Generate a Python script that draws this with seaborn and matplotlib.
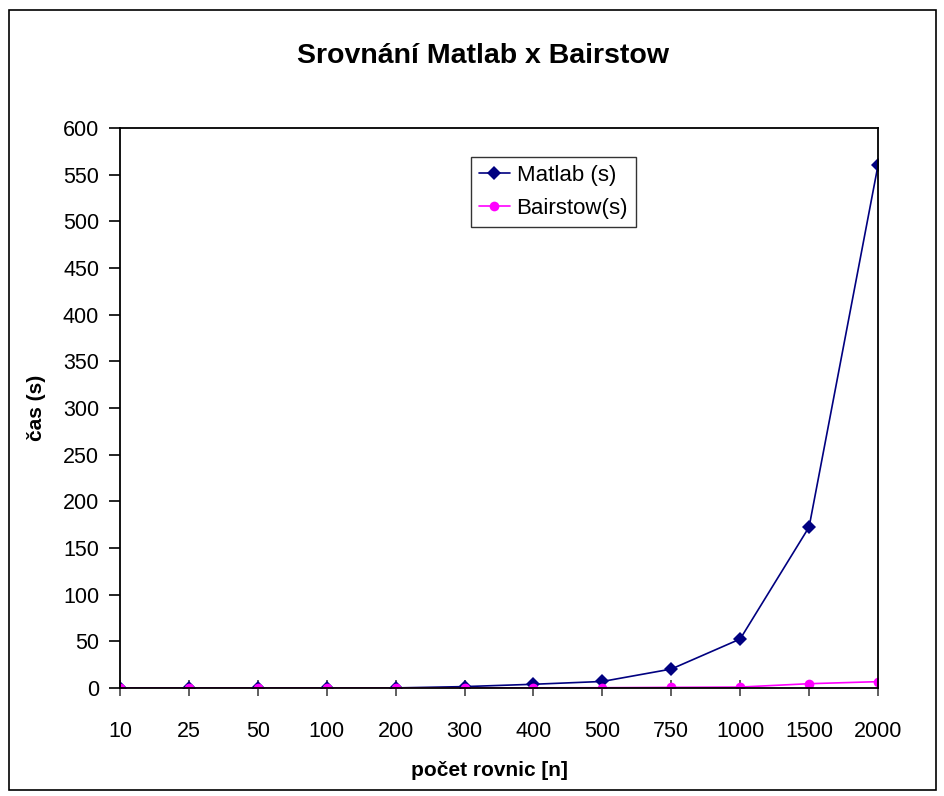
import matplotlib
matplotlib.use("Agg")
import matplotlib.pyplot as plt
import seaborn as sns
import pandas as pd
from matplotlib.patches import Rectangle

categories = ["10", "25", "50", "100", "200", "300", "400", "500", "750", "1000", "1500", "2000"]
matlab = [0.0, 0.0, 0.0, 0.0, 0.1, 1.5, 4.0, 7.0, 20.3, 52.5, 172.5, 560.0]
bairstow = [0.0, 0.0, 0.0, 0.0, 0.0, 0.1, 0.2, 0.3, 0.7, 1.0, 4.6, 6.8]
series_names = ["Matlab (s)", "Bairstow(s)"]
yticks = list(range(0, 601, 50))

df = pd.DataFrame({
    "n": categories * 2,
    "t": matlab + bairstow,
    "series": [series_names[0]] * len(categories) + [series_names[1]] * len(categories),
})

sns.set_theme(style="white")
plt.rcParams["font.family"] = ["Liberation Sans", "DejaVu Sans"]
plt.rcParams["text.color"] = "black"
plt.rcParams["axes.labelcolor"] = "black"
plt.rcParams["xtick.labelcolor"] = "black"
plt.rcParams["ytick.labelcolor"] = "black"

fig = plt.figure(figsize=(9.45, 7.96), dpi=100)
ax = fig.add_axes([120 / 945, 1 - 688 / 796, (878 - 120) / 945, (688 - 128) / 796])

palette = {series_names[0]: "#000080", series_names[1]: "#FF00FF"}
markers = {series_names[0]: "D", series_names[1]: "o"}
sns.lineplot(data=df, x="n", y="t", hue="series", style="series", palette=palette,
             markers=markers, dashes=False, markersize=7, linewidth=1.2,
             markeredgewidth=0, sort=False, ax=ax)

ax.set_xlim(0, len(categories) - 1)
ax.set_ylim(0, 600)
ax.set_yticks(yticks)
ax.set_xticks(range(len(categories)))
ax.set_xticklabels(categories)
for s in ax.spines.values():
    s.set_color("black")
    s.set_linewidth(1.3)
ax.tick_params(axis="y", direction="out", length=8, width=1.2, color="black",
               labelsize=15.5, pad=7, left=True, labelcolor="black")
ax.tick_params(axis="x", direction="inout", length=12, width=1.2, color="#444444",
               labelsize=15.5, pad=18, bottom=True, labelcolor="black")
ax.set_xlabel("počet rovnic [n]", fontsize=15, fontweight="bold", color="black")
ax.set_ylabel("čas (s)", fontsize=15, fontweight="bold", labelpad=12, color="black")
ax.xaxis.set_label_coords(0.487, -0.13)
ax.grid(False)

leg = ax.legend(loc="upper left", bbox_to_anchor=((471 - 120) / 758, (128 - 157 + 560) / 560),
                fontsize=16, frameon=True, fancybox=False, edgecolor="black",
                handlelength=1.4, handletextpad=0.3, borderpad=0.35, labelspacing=0.55,
                borderaxespad=0)
leg.get_frame().set_linewidth(1.0)
for t in leg.get_texts():
    t.set_color("black")

fig.text(483 / 945, 1 - 56 / 796, "Srovnání Matlab x Bairstow", ha="center", va="center",
         fontsize=20.5, fontweight="bold", color="black")

fig.patches.append(Rectangle((9 / 945, 1 - 790 / 796), (936 - 9) / 945, (790 - 10) / 796,
                             transform=fig.transFigure, fill=False, edgecolor="black",
                             linewidth=1.2))

fig.savefig("out.png", dpi=100, facecolor="white")
